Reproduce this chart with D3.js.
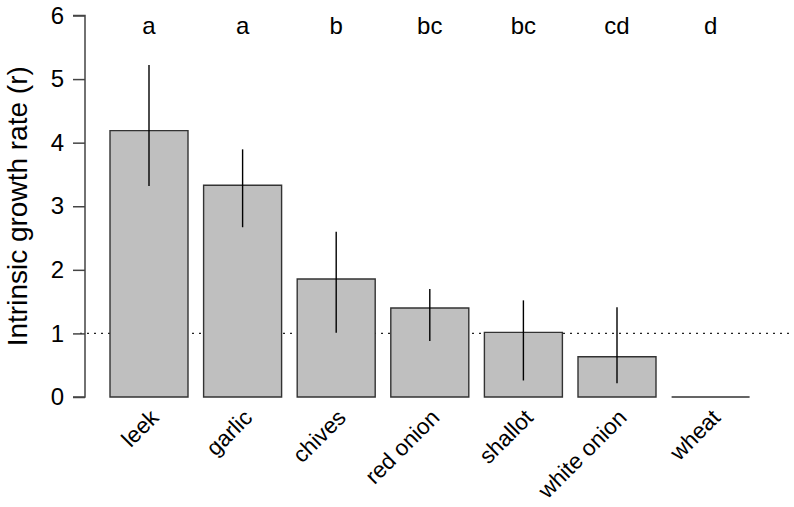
<!DOCTYPE html>
<html>
<head>
<meta charset="utf-8">
<script src="https://cdn.jsdelivr.net/npm/d3@7"></script>
<style>
  html, body { margin: 0; padding: 0; background: #fff; }
  svg { display: block; }
  text { font-family: "Liberation Sans", Arial, sans-serif; fill: #000; }
</style>
</head>
<body>
<svg id="chart" width="794" height="507"></svg>
<script>
const categories = ["leek", "garlic", "chives", "red onion", "shallot", "white onion", "wheat"];
const growthRate = [4.19, 3.33, 1.855, 1.40, 1.017, 0.634, 0];
const errLow  = [3.32, 2.67, 1.01, 0.88, 0.26, 0.215, null];
const errHigh = [5.22, 3.895, 2.60, 1.70, 1.52, 1.41, null];
const groupLetters = ["a", "a", "b", "bc", "bc", "cd", "d"];
const yTicks = [0, 1, 2, 3, 4, 5, 6];
const yLabel = "Intrinsic growth rate (r)";
const refLine = 1;

const svg = d3.select("#chart");

const y = d3.scaleLinear().domain([0, 6]).range([397, 15.5]);
const x = d3.scaleBand()
  .domain(categories)
  .range([102.2, 757.4])
  .paddingInner(1 / 6)
  .paddingOuter(1 / 12);

// dotted reference line
svg.append("line")
  .attr("x1", 80).attr("x2", 790)
  .attr("y1", y(refLine)).attr("y2", y(refLine))
  .attr("stroke", "#222").attr("stroke-width", 1.3)
  .attr("stroke-dasharray", "2,5");

const data = categories.map((c, i) => ({c, v: growthRate[i], lo: errLow[i], hi: errHigh[i], g: groupLetters[i]}));

// bars (drawn as closed paths so a zero-height bar still shows its outline)
svg.append("g").selectAll("path").data(data).join("path")
  .attr("d", d => {
    const x0 = x(d.c), x1 = x0 + x.bandwidth(), y0 = y(0), y1 = y(d.v);
    return `M${x0},${y0}V${y1}H${x1}V${y0}Z`;
  })
  .attr("fill", "#bfbfbf")
  .attr("stroke", "#333")
  .attr("stroke-width", 1.4);

// error bars
svg.append("g").selectAll("line").data(data.filter(d => d.lo !== null)).join("line")
  .attr("x1", d => x(d.c) + x.bandwidth() / 2)
  .attr("x2", d => x(d.c) + x.bandwidth() / 2)
  .attr("y1", d => y(d.lo))
  .attr("y2", d => y(d.hi))
  .attr("stroke", "#000")
  .attr("stroke-width", 1.4);

// group letters
svg.append("g").selectAll("text").data(data).join("text")
  .attr("x", d => x(d.c) + x.bandwidth() / 2)
  .attr("y", 34)
  .attr("text-anchor", "middle")
  .style("font-size", "24px")
  .text(d => d.g);

// y axis
const yAxis = d3.axisLeft(y).tickValues(yTicks).tickSize(12).tickPadding(9).tickFormat(d3.format("d"));
const gy = svg.append("g").attr("transform", "translate(85,0)").call(yAxis);
gy.select(".domain").attr("stroke", "#444").attr("stroke-width", 1.5).attr("d", `M-12,${y(6)}H0V${y(0)}H-12`);
gy.selectAll(".tick line").attr("stroke", "#444").attr("stroke-width", 1.5);
gy.selectAll(".tick text").style("font-size", "24px").style("font-family", "'Liberation Sans', Arial, sans-serif").attr("fill", "#000");

// axis title
svg.append("text")
  .attr("transform", `translate(27,${(y(0) + y(6)) / 2}) rotate(-90)`)
  .attr("text-anchor", "middle")
  .style("font-size", "28px")
  .text(yLabel);

// category labels
svg.append("g").selectAll("text").data(data).join("text")
  .attr("transform", d => `translate(${x(d.c) + x.bandwidth() / 2 + 11},419) rotate(-45)`)
  .attr("text-anchor", "end")
  .style("font-size", "22.5px")
  .text(d => d.c);
</script>
</body>
</html>
